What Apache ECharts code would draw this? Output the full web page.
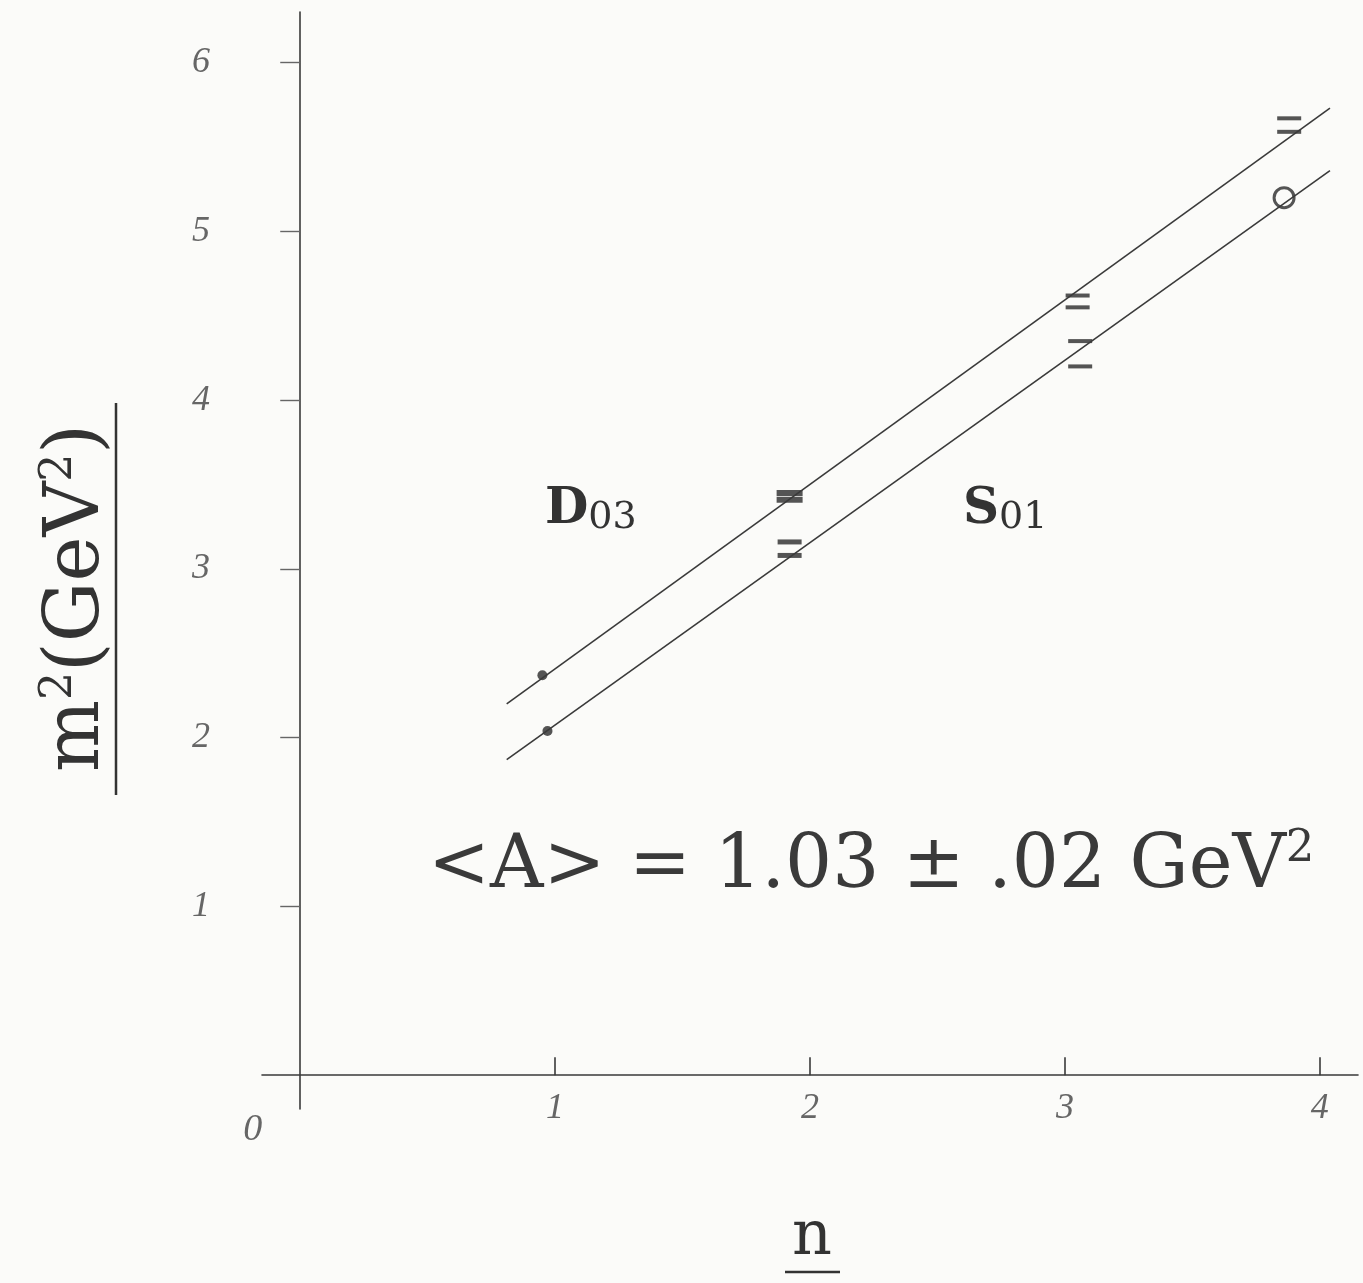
<!DOCTYPE html>
<html>
<head>
<meta charset="utf-8">
<script src="https://cdn.jsdelivr.net/npm/echarts@6/dist/echarts.min.js"></script>
<style>
  html, body { margin: 0; padding: 0; background: #fbfbf9; }
  #chart { width: 1363px; height: 1283px; }
</style>
</head>
<body>
<div id="chart"></div>
<script>
// tick values on each axis
const xTicks = [0, 1, 2, 3, 4]
const yTicks = [1, 2, 3, 4, 5, 6]

// D03 trajectory (upper line)
const d03Dots = [[0.95, 2.37]]
const d03BarsBold = [[1.92, 3.45], [1.92, 3.41]]
const d03Bars = [[3.05, 4.62], [3.05, 4.55], [3.88, 5.67], [3.88, 5.59]]
const d03Line = [[0.81, 2.2], [4.04, 5.73]]

// S01 trajectory (lower line)
const s01Dots = [[0.97, 2.04]]
const s01BarsBold = [[1.92, 3.16], [1.92, 3.08]]
const s01Bars = [[3.06, 4.35], [3.06, 4.2]]
const s01Circle = [[3.86, 5.2]]
const s01Line = [[0.81, 1.87], [4.04, 5.36]]

const ink = '#3a3a3a'
const pencil = '#666'
const serif = 'Liberation Serif, DejaVu Serif, serif'
const wide = 'DejaVu Serif, serif'

const chart = echarts.init(document.getElementById('chart'))

const lineSeries = (data) => ({
  type: 'line', data, symbol: 'none', silent: true,
  lineStyle: { color: ink, width: 1.6 }
})
const scatter = (data, symbol, size) => ({
  type: 'scatter', data, symbol, symbolSize: size, silent: true,
  itemStyle: { color: '#2b2b2b' }
})
const subLabel = (x, letter, sub) => ({
  type: 'text', x, y: 510,
  style: {
    text: '{b|' + letter + '}{s|' + sub + '}', verticalAlign: 'middle',
    rich: {
      b: { font: 'bold 50px ' + wide, fill: '#333' },
      s: { font: '38px ' + wide, fill: '#333', padding: [16, 0, 0, 0] }
    }
  }
})

chart.setOption({
  animation: false,
  backgroundColor: '#fbfbf9',
  grid: { left: 262, right: 5, top: 12, bottom: 174 },
  xAxis: {
    type: 'value', min: -0.15, max: 4.15,
    axisLine: { onZero: true, lineStyle: { color: ink, width: 1.6 } },
    axisTick: { customValues: xTicks.slice(1), inside: true, length: 18, lineStyle: { color: ink, width: 1.6 } },
    axisLabel: {
      customValues: xTicks, margin: -18,
      color: pencil, fontFamily: serif, fontStyle: 'italic', fontSize: 36,
      formatter: (v) => v === 0 ? '{o|0}' : String(v),
      rich: { o: { fontSize: 38, color: pencil, fontFamily: serif, fontStyle: 'italic', padding: [20, 95, 0, 0] } }
    },
    splitLine: { show: false }
  },
  yAxis: {
    type: 'value', min: -0.2, max: 6.3,
    axisLine: { onZero: true, lineStyle: { color: ink, width: 1.6 } },
    axisTick: { customValues: yTicks, length: 20, lineStyle: { color: pencil, width: 1.4 } },
    axisLabel: {
      customValues: yTicks, margin: 52,
      color: pencil, fontFamily: serif, fontStyle: 'italic', fontSize: 36
    },
    splitLine: { show: false }
  },
  graphic: [
    {
      type: 'text', x: 78, y: 598, rotation: Math.PI / 2,
      style: {
        text: 'm{p|2}(GeV{p|2})', font: '76px ' + wide, fill: '#333', align: 'center', verticalAlign: 'middle',
        rich: { p: { font: '44px ' + wide, fill: '#333', padding: [0, 0, 36, 0] } }
      }
    },
    { type: 'line', shape: { x1: 116, y1: 403, x2: 116, y2: 795 }, style: { stroke: '#333', lineWidth: 2.5 } },
    {
      type: 'text', x: 812, y: 1238,
      style: { text: 'n', font: '62px ' + wide, fill: '#333', align: 'center', verticalAlign: 'middle' }
    },
    { type: 'line', shape: { x1: 785, y1: 1272, x2: 840, y2: 1272 }, style: { stroke: '#333', lineWidth: 2.5 } },
    subLabel(545, 'D', '03'),
    subLabel(963, 'S', '01'),
    {
      type: 'text', x: 428, y: 868,
      style: {
        text: '<A> = 1.03 ± .02 GeV{p|2}', font: '74px ' + wide, fill: '#3a3a3a', verticalAlign: 'middle',
        rich: { p: { font: '45px ' + wide, fill: '#3a3a3a', padding: [0, 0, 38, 0] } }
      }
    }
  ],
  series: [
    lineSeries(d03Line),
    lineSeries(s01Line),
    scatter(d03Dots, 'circle', 10),
    scatter(s01Dots, 'circle', 10),
    scatter(d03BarsBold, 'rect', [26, 6]),
    scatter(s01BarsBold, 'rect', [24, 5]),
    scatter(d03Bars, 'rect', [24, 4]),
    scatter(s01Bars, 'rect', [24, 4]),
    {
      type: 'scatter', data: s01Circle, symbol: 'circle', symbolSize: 20, silent: true,
      itemStyle: { color: 'rgba(0,0,0,0)', borderColor: '#2b2b2b', borderWidth: 3 }
    }
  ]
})
</script>
</body>
</html>
